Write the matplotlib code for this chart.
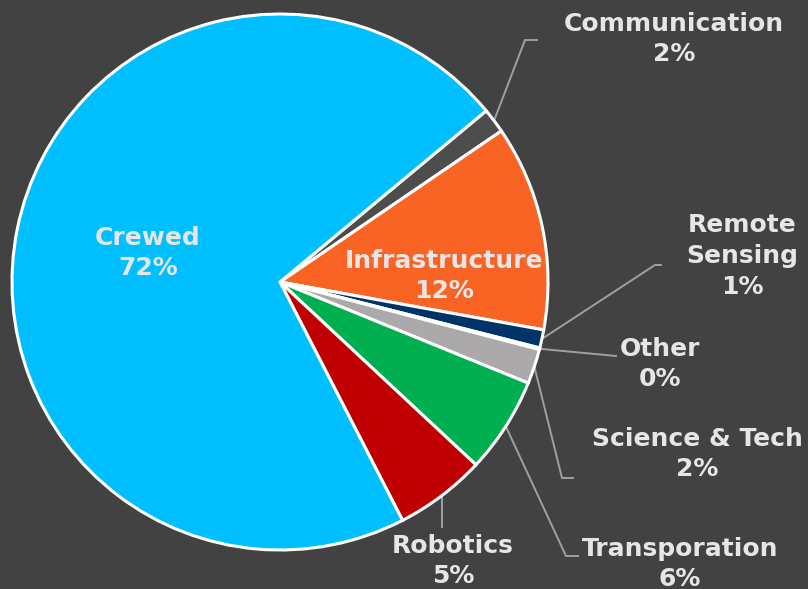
import numpy as np
import matplotlib.pyplot as plt

# Data
labels = ["Communication", "Infrastructure", "Remote\nSensing", "Other",
          "Science & Tech", "Transporation", "Robotics", "Crewed"]
values = [1.5, 12.4, 1.1, 0.1, 2.1, 5.8, 5.5, 71.6]
pct_text = ["2%", "12%", "1%", "0%", "2%", "6%", "5%", "72%"]
colors = ["#4d4d4d", "#f96424", "#003366", "#aba9a9",
          "#aba9a9", "#00b050", "#c00000", "#00bfff"]

bg = "#424242"
txt = "#e6e6e6"
line_c = "#a0a0a0"

W, H = 808, 589
fig = plt.figure(figsize=(W / 100, H / 100), dpi=100, facecolor=bg)
ax = fig.add_axes([0, 0, 1, 1])
ax.set_facecolor(bg)

cx, cy, r = 280, H - 282, 268
wedges, _ = ax.pie(values, colors=colors, startangle=39.7, counterclock=False,
                   center=(cx, cy), radius=r,
                   wedgeprops=dict(edgecolor="white", linewidth=2.2))
ax.set_xlim(0, W)
ax.set_ylim(0, H)
ax.set_aspect("equal")
ax.axis("off")

font = dict(family="DejaVu Sans", weight="bold", color=txt, fontsize=18,
            ha="center", va="center", linespacing=1.35)


def px(x, y):
    return x, H - y


# labels inside the big slices
ax.text(*px(148, 253), labels[7] + "\n" + pct_text[7], **font)
ax.text(*px(444, 276), labels[1] + "\n" + pct_text[1], **font)

# outside labels: (index, label pos, elbow points)
outside = [
    (0, (674, 39), [(525, 40), (537, 40)]),
    (2, (742, 256), [(655, 265), (661, 265)]),
    (3, (660, 364), [(616, 356)]),
    (4, (697, 454), [(562, 478), (573, 478)]),
    (5, (680, 564), [(566, 556), (578, 556)]),
    (6, (453, 561), [(444, 527)]),
]
for i, (lx, ly), elbow in outside:
    w = wedges[i]
    ang = np.deg2rad((w.theta1 + w.theta2) / 2)
    sx, sy = cx + r * np.cos(ang), cy + r * np.sin(ang)
    if i == 6:
        xs = [sx, sx]
        ys = [sy, H - elbow[0][1]]
    else:
        xs = [sx] + [e[0] for e in elbow]
        ys = [sy] + [H - e[1] for e in elbow]
    ax.plot(xs, ys, color=line_c, lw=1.4, zorder=0.5)
    ax.text(*px(lx, ly), labels[i] + "\n" + pct_text[i], **font)

fig.savefig("out.png", dpi=100, facecolor=bg)
